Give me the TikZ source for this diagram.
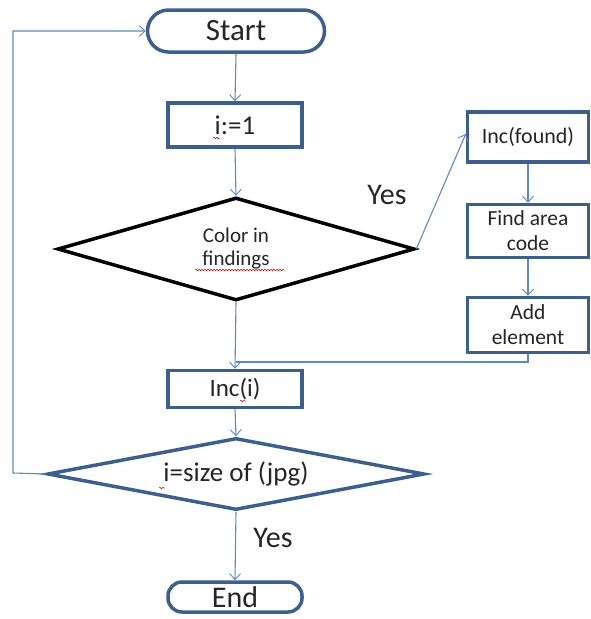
\documentclass[tikz,border=0pt]{standalone}
\usepackage{fontspec}
\setmainfont{Carlito}
\usetikzlibrary{shapes.geometric,arrows.meta,decorations.pathmorphing}
\definecolor{boxline}{HTML}{3C5F8D}
\definecolor{flowline}{HTML}{5F89C0}
\definecolor{inkgray}{HTML}{262626}
\tikzset{
  termbox/.style={draw=boxline, line width=3.5pt, rounded corners=14pt, text=inkgray, inner sep=0pt},
  procbox/.style={draw=boxline, line width=3.5pt, rectangle, text=inkgray, inner sep=0pt, align=center},
  decision/.style={diamond, inner sep=0pt, text=inkgray, align=center},
  flow/.style={draw=flowline, line width=1.1pt, -{Straight Barb[length=6pt,width=11pt,line width=0.9pt]}},
  flowplain/.style={draw=flowline, line width=1.1pt},
  squiggle/.style={draw=red!80!black, line width=0.5pt, decorate, decoration={snake, amplitude=0.8pt, segment length=3pt}}
}
\begin{document}
\begin{tikzpicture}[x=1pt,y=-1pt]
\useasboundingbox[fill=white] (0,0) rectangle (590,619);

% main column
\node[termbox, rounded corners=21pt, minimum width=177pt, minimum height=42pt, font=\fontsize{31}{33}\selectfont] (start) at (236,31) {Start};
\node[procbox, minimum width=134pt, minimum height=44pt, font=\fontsize{27}{29}\selectfont] (init) at (235,125) {i:=1};
\node[decision, aspect=3.47, draw=black, line width=3.5pt, minimum width=357pt, minimum height=103pt, font=\fontsize{21}{23}\selectfont] (test) at (236,249) {Color in\\findings};
\node[procbox, minimum width=134pt, minimum height=37pt, font=\fontsize{25}{27}\selectfont] (inci) at (235,389) {Inc(i)};
\node[decision, aspect=5.2, draw=boxline, line width=3.5pt, minimum width=377pt, minimum height=72pt, font=\fontsize{27}{29}\selectfont] (last) at (236,474) {i=size of (jpg)};
\node[termbox, minimum width=134pt, minimum height=30pt, font=\fontsize{30}{32}\selectfont] (stop) at (235,597) {End};

% right column
\node[procbox, minimum width=121pt, minimum height=50pt, font=\fontsize{22}{24}\selectfont] (found) at (528,137) {Inc(found)};
\node[procbox, minimum width=121pt, minimum height=53pt, font=\fontsize{21.5}{25}\selectfont] (area) at (528,231) {Find area\\code};
\node[procbox, minimum width=121pt, minimum height=55pt, font=\fontsize{21.5}{25}\selectfont] (add) at (528,325) {Add\\element};

% spell-check marks
\draw[squiggle] (195,270) -- (285,270);
\draw[squiggle] (213,138) -- (220,138);
\draw[squiggle] (240,401) -- (246,401);
\draw[squiggle] (159,488) -- (165,488);

% labels
\node[text=inkgray, font=\fontsize{30}{32}\selectfont] (yes1) at (387,195) {Yes};
\node[text=inkgray, font=\fontsize{30}{32}\selectfont] (yes2) at (273,538) {Yes};

% routing points
\coordinate (join) at (236,362);
\coordinate (back) at (13,473);

% connectors
\draw[flow] (start.south) -- (init.north);
\draw[flow] (init.south) -- (test.north);
\draw[flow] (test.south) -- (inci.north);
\draw[flow] (test.east) -- ([yshift=3pt]found.west);
\draw[flow] (found.south) -- (area.north);
\draw[flow] (area.south) -- (add.north);
\draw[flowplain] (add.south) |- (join);
\draw[flow] (inci.south) -- (last.north);
\draw[flow] (last.south) -- (stop.north);
\draw[flow] (last.west) -- (back) |- (start.west);
\end{tikzpicture}
\end{document}
